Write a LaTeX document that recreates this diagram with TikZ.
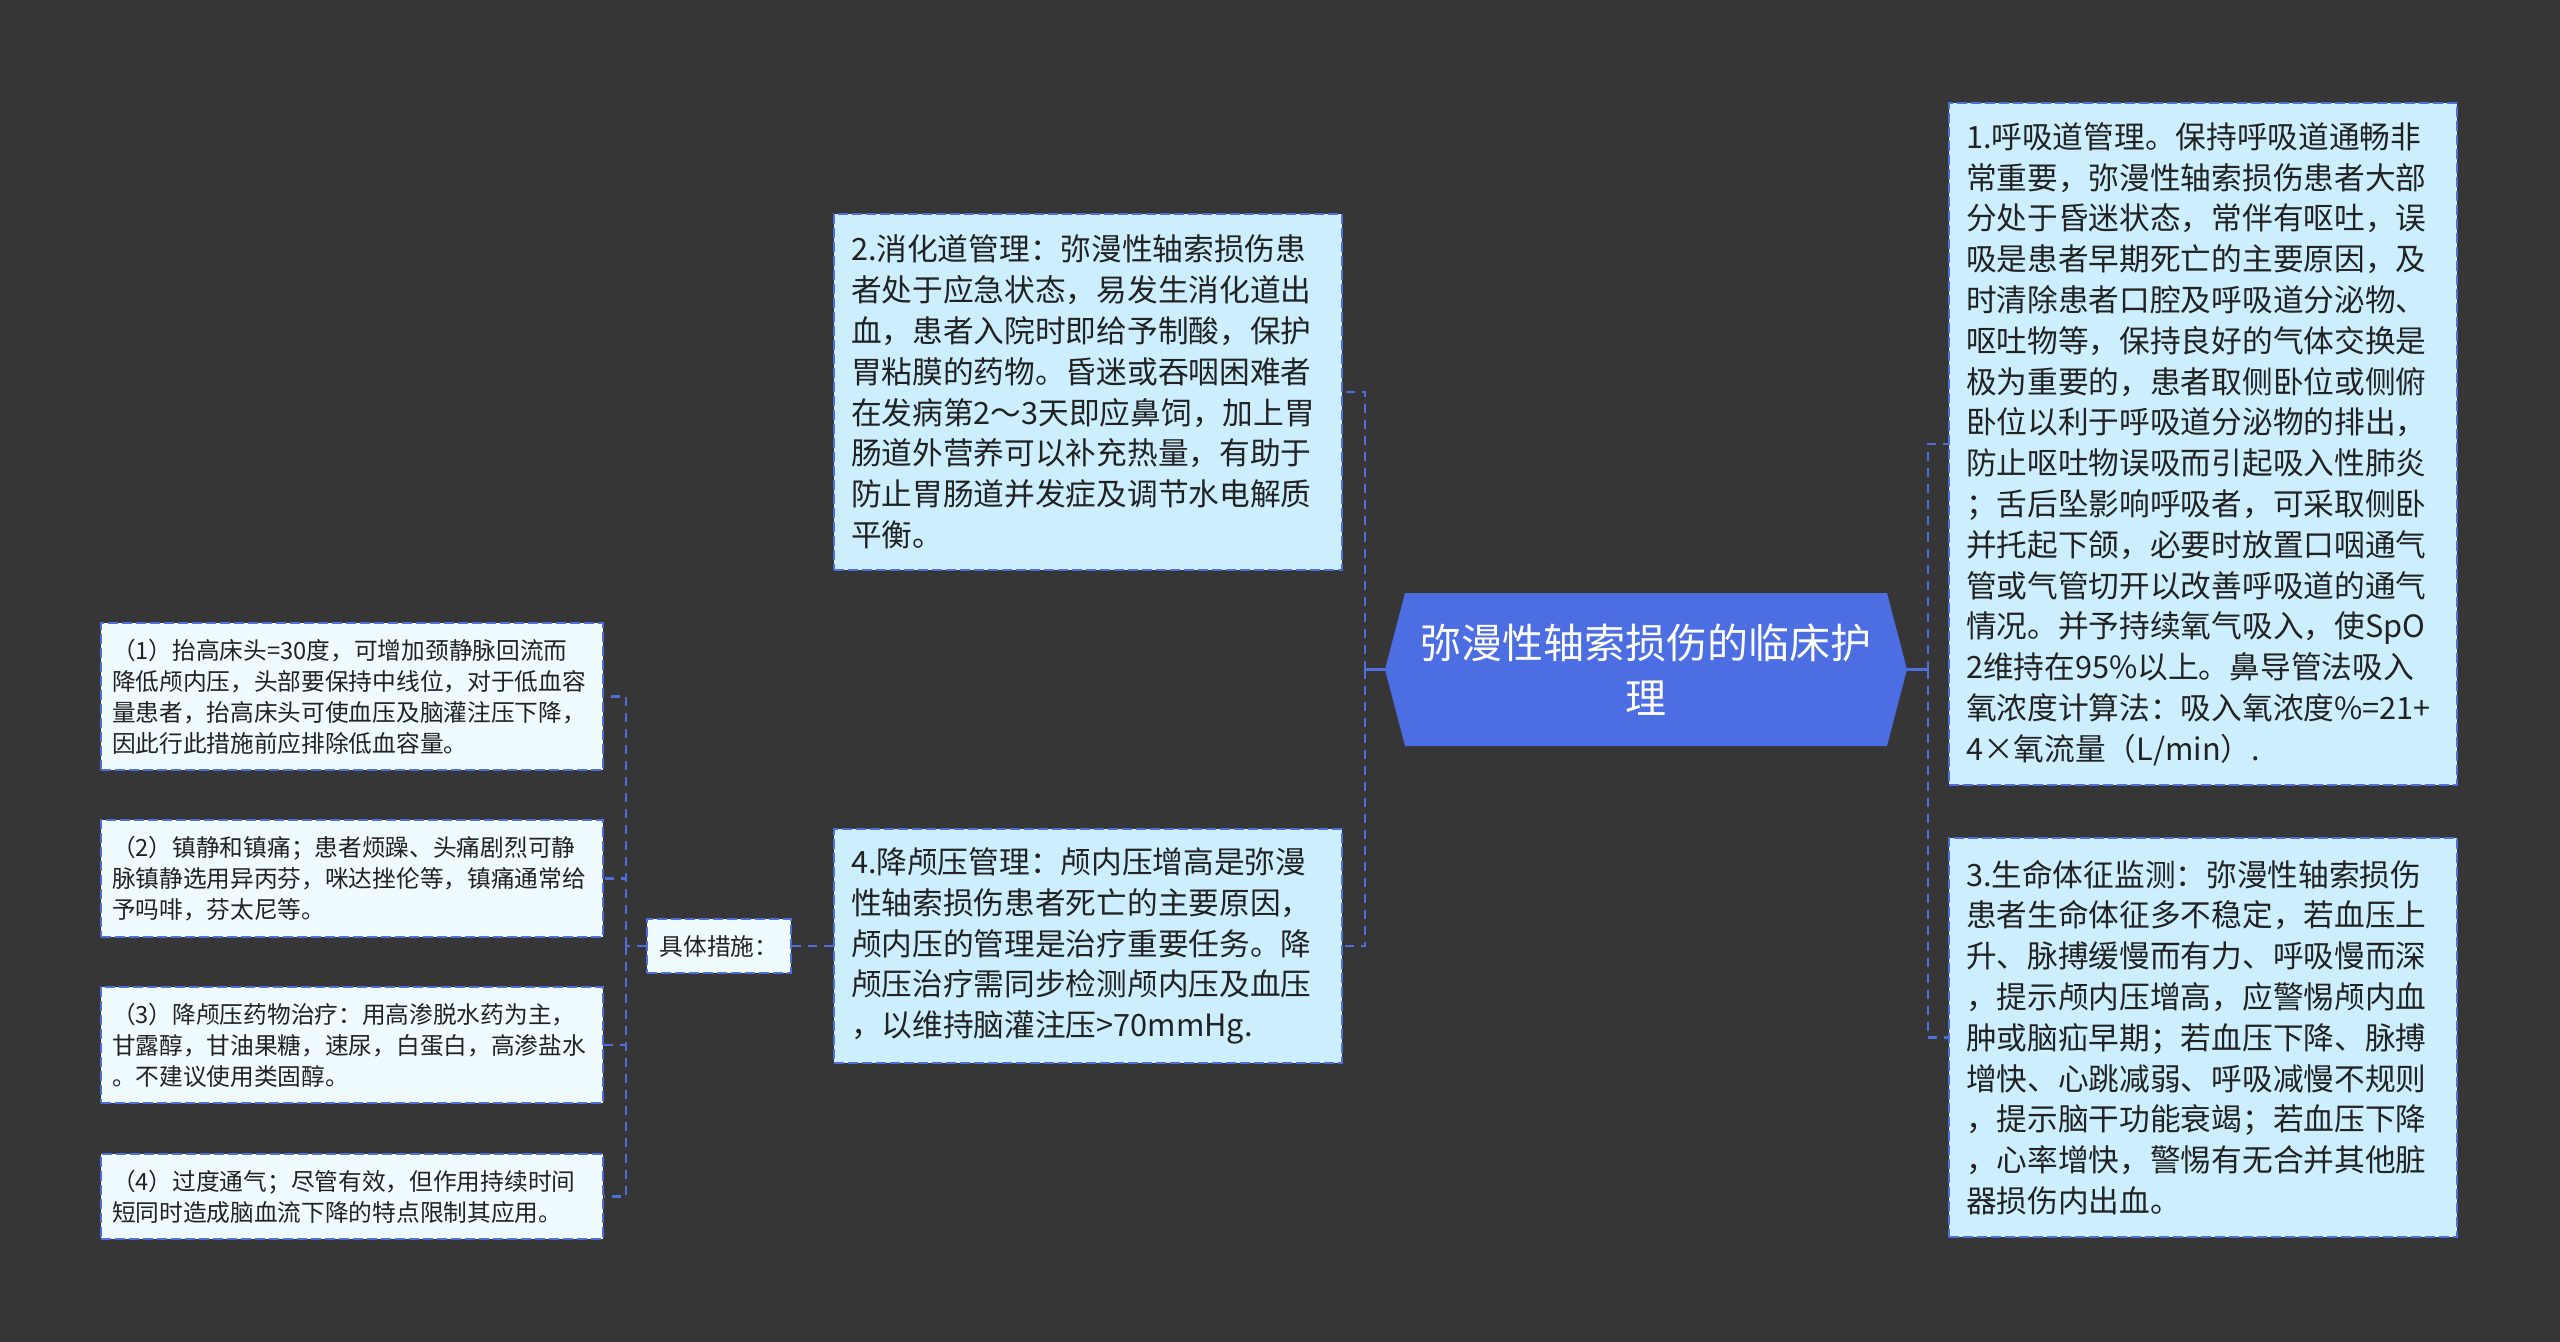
\documentclass[tikz,border=0pt]{standalone}
\usepackage{fontspec}
\setmainfont{Noto Sans CJK SC}
\definecolor{bgc}{RGB}{54,54,54}
\definecolor{boxfill}{RGB}{204,238,253}
\definecolor{leaffill}{RGB}{240,251,255}
\definecolor{linec}{RGB}{78,110,220}
\definecolor{rootc}{RGB}{76,110,226}
\definecolor{txt}{RGB}{34,34,34}
\tikzset{
  mainbox/.style={draw=linec, line width=0.9pt, dash pattern=on 5pt off 2pt, fill=boxfill,
    text=txt, align=left, text width=237pt, inner xsep=8.5pt, inner ysep=0pt,
    minimum width=254pt, font={\fontsize{15.35pt}{20.4pt}\selectfont}},
  leafbox/.style={draw=linec, line width=0.9pt, dash pattern=on 5pt off 2pt, fill=leaffill,
    text=txt, align=left, text width=240pt, inner xsep=5.5pt, inner ysep=0pt,
    minimum width=251pt, font={\fontsize{11.85pt}{15.5pt}\selectfont}},
  subbox/.style={draw=linec, line width=0.9pt, dash pattern=on 5pt off 2pt, fill=leaffill,
    text=txt, minimum width=72pt, minimum height=27pt, inner sep=0pt,
    font={\fontsize{11.85pt}{15.5pt}\selectfont}},
  rootbox/.style={text=white, align=center, minimum width=261pt, minimum height=76.5pt,
    inner sep=0pt, font={\fontsize{20.5pt}{27.5pt}\selectfont}},
  conn/.style={draw=linec, line width=1.2pt},
  dconn/.style={draw=linec, line width=1.2pt, dash pattern=on 4.5pt off 3.5pt},
}
\begin{document}
\begin{tikzpicture}[x=0.5pt,y=-0.5pt]
\fill[bgc] (0,0) rectangle (2560,1342);
\useasboundingbox (0,0) rectangle (2560,1342);

% root shape
\fill[rootc] (1385,669.5) -- (1405,593) -- (1887,593) -- (1907,669.5) -- (1887,746) -- (1405,746) -- cycle;
\node[rootbox] (root) at (1646,669.5) {弥漫性轴索损伤的临床护\\理};

% middle-left boxes
\node[mainbox, minimum height=178pt] (b2) at (1088,392) {2.消化道管理：弥漫性轴索损伤患\\者处于应急状态，易发生消化道出\\血，患者入院时即给予制酸，保护\\胃粘膜的药物。昏迷或吞咽困难者\\在发病第2～3天即应鼻饲，加上胃\\肠道外营养可以补充热量，有助于\\防止胃肠道并发症及调节水电解质\\平衡。};
\node[mainbox, minimum height=117pt] (b4) at (1088,946) {4.降颅压管理：颅内压增高是弥漫\\性轴索损伤患者死亡的主要原因，\\颅内压的管理是治疗重要任务。降\\颅压治疗需同步检测颅内压及血压\\，以维持脑灌注压>70mmHg.};

% right boxes
\node[mainbox, minimum height=341pt] (b1) at (2203,444) {1.呼吸道管理。保持呼吸道通畅非\\常重要，弥漫性轴索损伤患者大部\\分处于昏迷状态，常伴有呕吐，误\\吸是患者早期死亡的主要原因，及\\时清除患者口腔及呼吸道分泌物、\\呕吐物等，保持良好的气体交换是\\极为重要的，患者取侧卧位或侧俯\\卧位以利于呼吸道分泌物的排出，\\防止呕吐物误吸而引起吸入性肺炎\\；舌后坠影响呼吸者，可采取侧卧\\并托起下颌，必要时放置口咽通气\\管或气管切开以改善呼吸道的通气\\情况。并予持续氧气吸入，使SpO\\2维持在95\%以上。鼻导管法吸入\\氧浓度计算法：吸入氧浓度\%=21+\\4×氧流量（L/min）.};
\node[mainbox, minimum height=199.5pt] (b3) at (2203,1037.5) {3.生命体征监测：弥漫性轴索损伤\\患者生命体征多不稳定，若血压上\\升、脉搏缓慢而有力、呼吸慢而深\\，提示颅内压增高，应警惕颅内血\\肿或脑疝早期；若血压下降、脉搏\\增快、心跳减弱、呼吸减慢不规则\\，提示脑干功能衰竭；若血压下降\\，心率增快，警惕有无合并其他脏\\器损伤内出血。};

% sub node
\node[subbox] (sub) at (719,946) {具体措施：};

% left leaves
\node[leafbox, minimum height=73.5pt] (l1) at (352,696.5) {（1）抬高床头=30度，可增加颈静脉回流而\\降低颅内压，头部要保持中线位，对于低血容\\量患者，抬高床头可使血压及脑灌注压下降，\\因此行此措施前应排除低血容量。};
\node[leafbox, minimum height=58.5pt] (l2) at (352,878.5) {（2）镇静和镇痛；患者烦躁、头痛剧烈可静\\脉镇静选用异丙芬，咪达挫伦等，镇痛通常给\\予吗啡，芬太尼等。};
\node[leafbox, minimum height=58pt] (l3) at (352,1045) {（3）降颅压药物治疗：用高渗脱水药为主，\\甘露醇，甘油果糖，速尿，白蛋白，高渗盐水\\。不建议使用类固醇。};
\node[leafbox, minimum height=42.5pt] (l4) at (352,1196.5) {（4）过度通气；尽管有效，但作用持续时间\\短同时造成脑血流下降的特点限制其应用。};

% connectors
\coordinate (jl) at (1365,669.5);
\coordinate (jr) at (1928,669.5);
\coordinate (jm) at (626,946);
\draw[conn] (root.west) -- (jl);
\draw[dconn] (jl) |- (b2.east);
\draw[dconn] (jl) |- (b4.east);
\draw[conn] (root.east) -- (jr);
\draw[dconn] (jr) |- (b1.west);
\draw[dconn] (jr) |- (b3.west);
\draw[dconn] (b4.west) -- (sub.east);
\draw[dconn] (sub.west) -- (jm);
\draw[dconn] (jm) |- (l1.east);
\draw[dconn] (jm) |- (l2.east);
\draw[dconn] (jm) |- (l3.east);
\draw[dconn] (jm) |- (l4.east);
\end{tikzpicture}
\end{document}
